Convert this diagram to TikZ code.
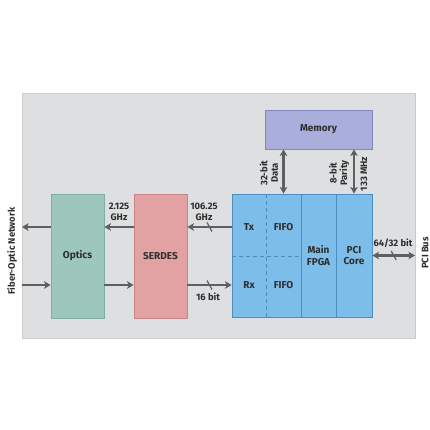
\documentclass[tikz,border=0pt]{standalone}
\usepackage{fontspec}
\setmainfont{Fira Sans}
\usetikzlibrary{arrows.meta,decorations.markings}

\definecolor{panelgray}{HTML}{DEDFE0}
\definecolor{panelline}{HTML}{C9CACB}
\definecolor{opticsfill}{HTML}{9DC7BA}
\definecolor{opticsline}{HTML}{7EAE9F}
\definecolor{serdesfill}{HTML}{E2A2A3}
\definecolor{serdesline}{HTML}{C88485}
\definecolor{fpgafill}{HTML}{7DBDEA}
\definecolor{fpgaline}{HTML}{4A8DC0}
\definecolor{memfill}{HTML}{AAAEDD}
\definecolor{memline}{HTML}{8387BF}
\definecolor{sigcolor}{HTML}{5E5F61}
\definecolor{txtgray}{HTML}{2E2E2E}

\begin{document}
\begin{tikzpicture}[x=1pt, y=-1pt, text=txtgray,
  font=\bfseries\fontsize{10}{11.5}\selectfont,
  block/.style={draw, line width=0.8, minimum width=53, minimum height=124, inner sep=0pt},
  lbl/.style={font=\bfseries\fontsize{9.4}{10.5}\selectfont, inner sep=0pt, align=center},
  sig/.style={draw=sigcolor, line width=2.6, arrows={-{Stealth[length=6.5pt, width=7.5pt, inset=1.5pt]}}},
  sigboth/.style={sig, arrows={{Stealth[length=6.5pt, width=7.5pt, inset=1.5pt]}-{Stealth[length=6.5pt, width=7.5pt, inset=1.5pt]}}},
  slashed/.style={postaction={decorate, decoration={markings,
    mark=at position 0.5 with {\draw[sigcolor, line width=1.2pt, -] (-2.5pt,4.5pt) -- (2.5pt,-4.5pt);}}}}]
 \useasboundingbox (0,0) rectangle (430,430);
 \fill[white] (0,0) rectangle (430,430);
 \filldraw[fill=panelgray, draw=panelline, line width=0.8] (22,93) rectangle (415,338);

 % blocks
 \node[block, fill=opticsfill, draw=opticsline] (optics) at (77.5,256) {Optics};
 \node[block, fill=serdesfill, draw=serdesline] (serdes) at (160.5,256) {SERDES};
 \node[block, fill=fpgafill, draw=fpgaline, minimum width=140, minimum height=123] (fpga) at (302,255.5) {};
 \node[block, fill=memfill, draw=memline, minimum width=107, minimum height=39] (memory) at (318.5,129.5) {Memory};

 % fpga partitions
 \draw[fpgaline, line width=0.8, dash pattern=on 4pt off 3pt] (266,194) -- (266,317);
 \draw[fpgaline, line width=0.8, dash pattern=on 4pt off 3pt] (232,256) -- (301,256);
 \draw[fpgaline, line width=0.8] (301,194) -- (301,317);
 \draw[fpgaline, line width=0.8] (336,194) -- (336,317);

 \node (tx) at (249,227) {Tx};
 \node (rx) at (249,285) {Rx};
 \node (fifotx) at (283.5,227) {FIFO};
 \node (fiforx) at (283.5,285) {FIFO};
 \node[align=center] (mainfpga) at (318.5,255.5) {Main\\FPGA};
 \node[align=center] (pcicore) at (354,255.5) {PCI\\Core};

 % signals
 \coordinate (fibtx) at (22,227);
 \coordinate (fibrx) at (22,285);
 \coordinate (pcibus) at (415,255.5);
 \draw[sig] (optics.west |- tx) -- (fibtx);
 \draw[sig] (fibrx) -- (optics.west |- rx);
 \draw[sig] (serdes.west |- tx) -- (optics.east |- tx);
 \draw[sig] (optics.east |- rx) -- (serdes.west |- rx);
 \draw[sig, slashed] (fpga.west |- tx) -- (serdes.east |- tx);
 \draw[sig, slashed] (serdes.east |- rx) -- (fpga.west |- rx);
 \draw[sigboth] (memory.south -| fifotx) -- (fpga.north -| fifotx);
 \draw[sigboth] (memory.south -| pcicore) -- (fpga.north -| pcicore);
 \draw[sigboth, slashed] (fpga.east |- pcicore) -- (pcibus);

 % labels
 \node[lbl] (clkopt) at (119,212) {2.125\\GHz};
 \node[lbl] (clkser) at (204,212) {106.25\\GHz};
 \node[lbl] (rxwidth) at (208,297) {16 bit};
 \node[lbl] (pciwidth) at (393,243) {64/32 bit};
 \node[lbl, rotate=90] (memdata) at (269,173) {32-bit\\Data};
 \node[lbl, rotate=90] (memparity) at (339,173) {8-bit\\Parity};
 \node[lbl, rotate=90] (memclk) at (364,174) {133 MHz};
 \node[lbl, rotate=90] (pcilbl) at (425,253) {PCI Bus};
 \node[lbl, rotate=90] (fiberlbl) at (12,251) {Fiber-Optic Network};
\end{tikzpicture}
\end{document}
